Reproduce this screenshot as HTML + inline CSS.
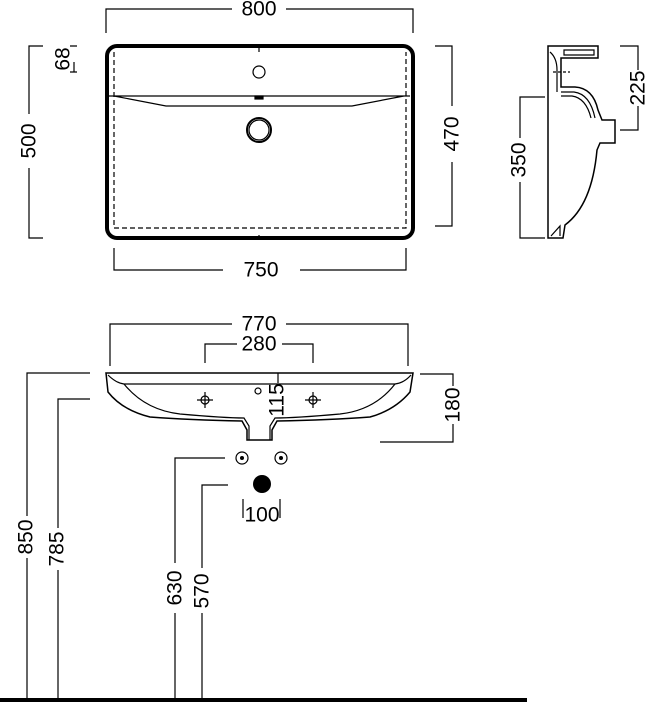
<!DOCTYPE html>
<html><head><meta charset="utf-8"><style>html,body{margin:0;padding:0;background:#fff}svg{display:block}text{font-family:"Liberation Sans",sans-serif;font-size:21px;fill:#000}</style></head><body>
<svg width="645" height="703" viewBox="0 0 645 703" xmlns="http://www.w3.org/2000/svg">
<g fill="none" stroke="#000" stroke-width="1.2">
<path d="M106,33V9H232M286,9H413V33"/>
<path d="M114,248V270H223M300,270H406V248"/>
<path d="M43,46H29V114M29,168V238H43"/>
<path d="M70,46H77M70,72H77M74,62V72"/>
<path d="M435,46H452V106M452,162V226H435"/>
<rect x="107" y="46" width="306" height="192" rx="10" stroke-width="4"/>
<path d="M114,52V228H406V52" stroke-dasharray="5,3"/>
<path d="M109,96H410M114,96L166,106H352L404,96"/>
<path d="M259,46V52M259,235V238"/>
<circle cx="259" cy="72" r="6"/>
<circle cx="259" cy="130" r="12" stroke-width="2"/>
<circle cx="259" cy="130" r="10"/>
<rect x="255" y="96" width="8" height="3" fill="#000"/>
<!-- side view -->
<path d="M548,46H598V58H561V87H575Q593,88 598,110L602,120H615V143H600L597,150Q592,205 565,225L563,238H548Z" stroke-width="1.5"/>
<path d="M564,50H594V55H564Z"/>
<path d="M561,92H574Q590,94 595,118M561,96H572Q586,98 591,118"/>
<path d="M551,236L560,226V236"/>
<path d="M550,52Q557,58 557,70V92"/>
<path d="M553,72H570" stroke-dasharray="3,2"/>
<path d="M620,46H638V70M638,106V130H620"/>
<path d="M545,97H520V138M520,182V238H545"/>
<!-- front dims -->
<path d="M110,366V324H232M286,324H408V366"/>
<path d="M205,363V344H237M282,344H313V363"/>
<path d="M420,374H453V386M453,424V442H380"/>
<path d="M90,373H27V516M27,558V700"/>
<path d="M90,399H58V528M58,570V700"/>
<path d="M225,458H175V563M175,613V700"/>
<path d="M228,485H202V568M202,613V700"/>
<path d="M243,499V518M280,499V518"/>
<!-- basin -->
<path d="M106,373H413L410,392Q395,410 370,417Q330,420 277,421L272,430V440H247V430L242,421Q190,420 150,417Q122,410 108,392Z" stroke-width="1.5"/>
<path d="M108,375Q116,383 124,384H395Q404,383 411,375"/>
<path d="M124,384Q145,410 180,414Q225,418 244,418L249,426V440M395,384Q375,410 340,414Q295,418 275,418L270,426V440"/>
<path d="M278,373V383"/>
<circle cx="205" cy="400" r="4"/><path d="M197,400H213M205,392V408"/>
<circle cx="313" cy="400" r="4"/><path d="M305,400H321M313,392V408"/>
<circle cx="258" cy="391" r="3"/>
<circle cx="242" cy="458" r="6"/><circle cx="281" cy="458" r="6"/>
</g>
<circle cx="242" cy="458" r="2" fill="#000"/><circle cx="281" cy="458" r="2" fill="#000"/>
<circle cx="262" cy="484" r="9" fill="#000"/>
<rect x="0" y="698" width="527" height="4" fill="#000"/>
<g text-anchor="middle" dominant-baseline="central">
<text x="259" y="9">800</text>
<text x="261" y="270">750</text>
<text x="259" y="324">770</text>
<text x="259" y="344">280</text>
<text x="262" y="515">100</text>
<text transform="translate(29,141) rotate(-90)">500</text>
<text transform="translate(63,59) rotate(-90)">68</text>
<text transform="translate(452,134) rotate(-90)">470</text>
<text transform="translate(638,88) rotate(-90)">225</text>
<text transform="translate(519,160) rotate(-90)">350</text>
<text transform="translate(453,405) rotate(-90)">180</text>
<text transform="translate(277,400) rotate(-90)">115</text>
<text transform="translate(26,537) rotate(-90)">850</text>
<text transform="translate(57,549) rotate(-90)">785</text>
<text transform="translate(175,588) rotate(-90)">630</text>
<text transform="translate(202,591) rotate(-90)">570</text>
</g>
</svg>
</body></html>
